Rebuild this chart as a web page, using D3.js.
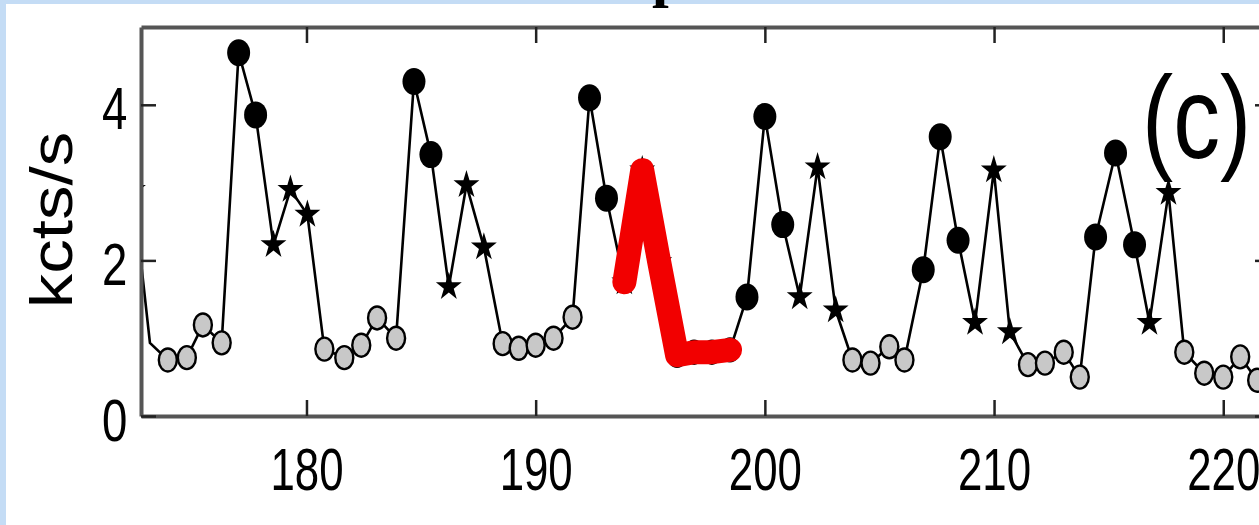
<!DOCTYPE html>
<html>
<head>
<meta charset="utf-8">
<script src="https://cdn.jsdelivr.net/npm/d3@7/dist/d3.min.js"></script>
<style>
  html, body { margin: 0; padding: 0; background: #ffffff; }
  svg { display: block; }
</style>
</head>
<body>
<svg id="chart" width="1259" height="525"></svg>
<script>
// Light-curve samples: time (s), count rate (kcts/s) and marker style per sample
const time = [
  172.43, 173.17, 173.95, 174.78, 175.48, 176.30, 177.04, 177.78, 178.56, 179.30,
  180.04, 180.78, 181.65, 182.39, 183.08, 183.91, 184.69, 185.43, 186.21, 186.98,
  187.74, 188.56, 189.26, 190.00, 190.78, 191.61, 192.35, 193.09, 193.87, 194.65,
  195.39, 196.17, 196.91, 197.69, 198.48, 199.22, 200.00, 200.78, 201.52, 202.30,
  203.09, 203.82, 204.61, 205.43, 206.09, 206.91, 207.65, 208.43, 209.17, 209.99,
  210.69, 211.48, 212.22, 213.04, 213.74, 214.43, 215.30, 216.13, 216.78, 217.61,
  218.30, 219.17, 220.00, 220.74, 221.48
];
const rate = [
  2.91, 0.94, 0.72, 0.75, 1.17, 0.94, 4.67, 3.87, 2.20, 2.91,
  2.59, 0.86, 0.75, 0.91, 1.26, 1.00, 4.30, 3.36, 1.66, 2.97,
  2.17, 0.93, 0.87, 0.91, 1.00, 1.27, 4.09, 2.80, 1.72, 3.16,
  1.98, 0.78, 0.82, 0.82, 0.85, 1.53, 3.85, 2.46, 1.53, 3.20,
  1.36, 0.72, 0.68, 0.89, 0.72, 1.88, 3.59, 2.26, 1.20, 3.16,
  1.08, 0.66, 0.68, 0.82, 0.50, 2.30, 3.38, 2.20, 1.20, 2.87,
  0.82, 0.55, 0.50, 0.76, 0.46
];
const marker = [
  "star", "none", "open", "open", "open", "open", "filled", "filled", "star", "star",
  "star", "open", "open", "open", "open", "open", "filled", "filled", "star", "star",
  "star", "open", "open", "open", "open", "open", "filled", "filled", "star", "star",
  "star", "open", "open", "open", "open", "filled", "filled", "filled", "star", "star",
  "star", "open", "open", "open", "open", "filled", "filled", "filled", "star", "star",
  "star", "open", "open", "open", "open", "filled", "filled", "filled", "star", "star",
  "open", "open", "open", "open", "open"
];
// Interval traced in red
const highlight = [193.8, 198.6];

const xDomain = [172.78, 222.04];
const yDomain = [0, 5];
const xTicks = [180, 190, 200, 210, 220];
const yTicks = [0, 2, 4];
const yLabel = "kcts/s";
const panelTag = "(c)";

const svg = d3.select("#chart");
const W = 1259, H = 525;
const plot = { left: 141, top: 27, right: 1270, bottom: 416 };

// page background with pale blue border
svg.append("rect").attr("width", W).attr("height", H).attr("fill", "#c4dcf5");
svg.append("rect").attr("x", 6).attr("y", 4).attr("width", W - 6).attr("height", H - 4).attr("fill", "#ffffff");

// clipped-off figure title (only a descender shows)
svg.append("text")
  .attr("x", 652).attr("y", -5)
  .attr("font-family", "'Liberation Serif', 'DejaVu Serif', serif")
  .attr("font-weight", "bold")
  .attr("font-size", 60)
  .attr("fill", "#000")
  .text("p");

const x = d3.scaleLinear().domain(xDomain).range([plot.left, plot.right]);
const y = d3.scaleLinear().domain(yDomain).range([plot.bottom, plot.top]);

const points = time.map((t, i) => ({ t, v: rate[i], m: marker[i] }));

svg.append("clipPath").attr("id", "plotclip")
  .append("rect")
  .attr("x", plot.left + 2).attr("y", plot.top + 2)
  .attr("width", plot.right - plot.left - 4).attr("height", plot.bottom - plot.top - 4);

const data = svg.append("g").attr("clip-path", "url(#plotclip)");

const line = d3.line().x(d => x(d.t)).y(d => y(d.v));

data.append("path")
  .datum(points)
  .attr("d", line)
  .attr("fill", "none")
  .attr("stroke", "#000")
  .attr("stroke-width", 2.6);

// markers
const mk = data.append("g");
mk.selectAll("ellipse.open")
  .data(points.filter(d => d.m === "open"))
  .join("ellipse")
  .attr("class", "open")
  .attr("cx", d => x(d.t)).attr("cy", d => y(d.v))
  .attr("rx", 9).attr("ry", 11.5)
  .attr("fill", "#c8c8c8")
  .attr("stroke", "#000")
  .attr("stroke-width", 2.4);

mk.selectAll("ellipse.filled")
  .data(points.filter(d => d.m === "filled"))
  .join("ellipse")
  .attr("class", "filled")
  .attr("cx", d => x(d.t)).attr("cy", d => y(d.v))
  .attr("rx", 11.5).attr("ry", 13.5)
  .attr("fill", "#000");

const star = d3.symbol().type(d3.symbolStar).size(230);
mk.selectAll("path.star")
  .data(points.filter(d => d.m === "star"))
  .join("path")
  .attr("class", "star")
  .attr("transform", d => `translate(${x(d.t)},${y(d.v)}) scale(0.95,1.05)`)
  .attr("d", star)
  .attr("fill", "#000");

// red highlighted stretch
data.append("path")
  .datum(points.filter(d => d.t >= highlight[0] && d.t <= highlight[1]))
  .attr("d", line)
  .attr("fill", "none")
  .attr("stroke", "#f20000")
  .attr("stroke-width", 24)
  .attr("stroke-linecap", "round")
  .attr("stroke-linejoin", "round");

// axes (box with inward ticks)
function styleAxis(g) {
  g.select(".domain").attr("stroke", "#555").attr("stroke-width", 4);
  g.selectAll(".tick line").attr("stroke", "#222").attr("stroke-width", 2.5);
  g.selectAll(".tick text")
    .attr("font-family", "'Liberation Sans', Arial, Helvetica, sans-serif")
    .attr("font-size", 60)
    .attr("fill", "#000");
}

const gx = svg.append("g")
  .attr("transform", `translate(0,${plot.bottom})`)
  .call(d3.axisBottom(x).tickValues(xTicks).tickSize(-16).tickSizeOuter(0).tickPadding(31).tickFormat(d3.format("d")));
styleAxis(gx);
gx.selectAll(".tick text").attr("transform", "scale(0.73,1)");

const gxTop = svg.append("g")
  .attr("transform", `translate(0,${plot.top})`)
  .call(d3.axisTop(x).tickValues(xTicks).tickSize(-16).tickSizeOuter(0).tickFormat(""));
styleAxis(gxTop);

const gy = svg.append("g")
  .attr("transform", `translate(${plot.left},0)`)
  .call(d3.axisLeft(y).tickValues(yTicks).tickSize(-15).tickSizeOuter(0).tickPadding(18).tickFormat(d3.format("d")));
styleAxis(gy);
gy.selectAll(".tick text").attr("transform", "scale(0.76,1)").attr("dy", "0.4em");

const gyRight = svg.append("g")
  .attr("transform", `translate(${plot.right},0)`)
  .call(d3.axisRight(y).tickValues(yTicks).tickSize(-15).tickSizeOuter(0).tickFormat(""));
styleAxis(gyRight);

// y-axis title
svg.append("text")
  .attr("transform", `translate(72,${(133 + 307) / 2}) rotate(-90) scale(1.15,1)`)
  .attr("text-anchor", "middle")
  .attr("font-family", "'Liberation Sans', Arial, Helvetica, sans-serif")
  .attr("font-size", 60)
  .attr("fill", "#000")
  .text(yLabel);

// panel tag
svg.append("text")
  .attr("transform", "translate(1142,158) scale(0.8,1)")
  .attr("font-family", "'Liberation Sans', Arial, Helvetica, sans-serif")
  .attr("font-size", 117)
  .attr("fill", "#000")
  .text(panelTag);
</script>
</body>
</html>
